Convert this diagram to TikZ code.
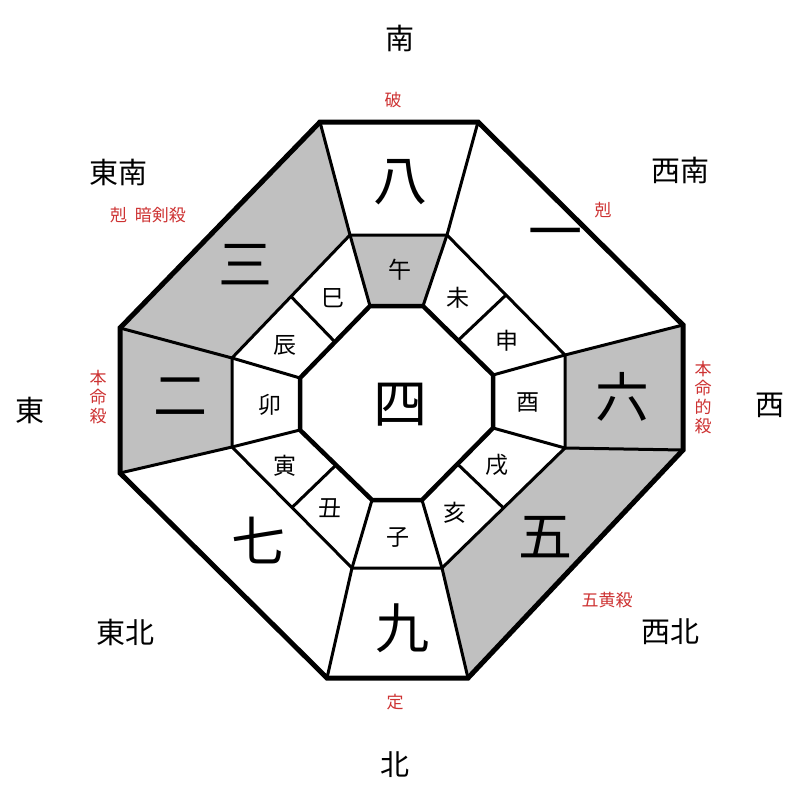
\documentclass[tikz,border=0pt]{standalone}
\usepackage{fontspec}
\setmainfont{Noto Sans CJK JP}
\usetikzlibrary{calc}
\definecolor{cellgray}{RGB}{192,192,192}
\definecolor{redtxt}{RGB}{205,50,50}
\tikzset{
  big/.style={font=\fontsize{54}{54}\selectfont},
  sign/.style={font=\fontsize{23}{23}\selectfont},
  dir/.style={font=\fontsize{29}{29}\selectfont},
  note/.style={font=\fontsize{17}{17}\selectfont,text=redtxt,inner sep=0pt},
  wall/.style={line width=3pt,line join=miter},
}
\begin{document}
\begin{tikzpicture}[x=1pt,y=-1pt]
\useasboundingbox (0,0) rectangle (800,800);
% outer ring
\coordinate (a1) at (320,122); \coordinate (a2) at (478,122);
\coordinate (a3) at (683,325); \coordinate (a4) at (683,450);
\coordinate (a5) at (468,678); \coordinate (a6) at (327,678);
\coordinate (a7) at (120,473); \coordinate (a8) at (120,328);
% middle ring
\coordinate (b1) at (350,235); \coordinate (b2) at (447,235);
\coordinate (b3) at (565,355); \coordinate (b4) at (565,448);
\coordinate (b5) at (442,568); \coordinate (b6) at (352,568);
\coordinate (b7) at (232,447); \coordinate (b8) at (232,358);
% inner ring
\coordinate (i1) at (370,306); \coordinate (i2) at (423,306);
\coordinate (i3) at (493,375); \coordinate (i4) at (493,428);
\coordinate (i5) at (422,500); \coordinate (i6) at (372,500);
\coordinate (i7) at (300,430); \coordinate (i8) at (300,378);

% shaded sectors
\fill[cellgray] (a8) -- (a1) -- (b1) -- (b8) -- cycle;
\fill[cellgray] (a7) -- (a8) -- (b8) -- (b7) -- cycle;
\fill[cellgray] (a3) -- (a4) -- (b4) -- (b3) -- cycle;
\fill[cellgray] (a4) -- (a5) -- (b5) -- (b4) -- cycle;
\fill[cellgray] (b1) -- (b2) -- (i2) -- (i1) -- cycle;

% spokes
\foreach \k in {1,...,8} {
  \draw[wall] (a\k) -- (b\k);
  \draw[wall] (b\k) -- (i\k);
}
\draw[wall] ($(i8)!0.5!(i1)$) -- ($(b8)!0.5!(b1)$);
\draw[wall] ($(i2)!0.5!(i3)$) -- ($(b2)!0.5!(b3)$);
\draw[wall] ($(i4)!0.5!(i5)$) -- ($(b4)!0.5!(b5)$);
\draw[wall] ($(i6)!0.5!(i7)$) -- ($(b6)!0.5!(b7)$);
\draw[wall] (b1) -- (b2) -- (b3) -- (b4) -- (b5) -- (b6) -- (b7) -- (b8) -- cycle;
\draw[line width=4.5pt,line join=miter] (i1) -- (i2) -- (i3) -- (i4) -- (i5) -- (i6) -- (i7) -- (i8) -- cycle;
\draw[line width=5pt,line join=miter] (a1) -- (a2) -- (a3) -- (a4) -- (a5) -- (a6) -- (a7) -- (a8) -- cycle;

% numbers
\node[big] (n8) at (400,182) {八};
\node[big] (n1) at (555,240) {一};
\node[big] (n6) at (622,397) {六};
\node[big] (n5) at (545,537) {五};
\node[big] (n9) at (402,628) {九};
\node[big] (n7) at (258,540) {七};
\node[big] (n2) at (180,397) {二};
\node[big] (n3) at (245,265) {三};
\node[big] (n4) at (400,405) {四};

% zodiac signs
\node[sign] (wu) at (400,270) {午};
\node[sign] (wei) at (458,298) {未};
\node[sign] (shen) at (507,341) {申};
\node[sign] (you) at (528,402) {酉};
\node[sign] (xu) at (497,465) {戌};
\node[sign] (hai) at (455,513) {亥};
\node[sign] (zi) at (398,538) {子};
\node[sign] (chou) at (330,508) {丑};
\node[sign] (yin) at (285,466) {寅};
\node[sign] (mao) at (270,405) {卯};
\node[sign] (chen) at (285,345) {辰};
\node[sign] (si) at (333,298) {巳};

% directions
\node[dir] (south) at (400,38) {南};
\node[dir] (sw) at (680,170) {西南};
\node[dir] (west) at (770,405) {西};
\node[dir] (nw) at (670,632) {西北};
\node[dir] (north) at (395,765) {北};
\node[dir] (ne) at (125,632) {東北};
\node[dir] (east) at (30,410) {東};
\node[dir] (se) at (118,172) {東南};

% red notes
\node[note] (po) at (393,100) {破};
\node[note] (ke1) at (603,210) {剋};
\node[note,align=center] (bmt) at (703,398) {本\\[2pt]命\\[2pt]的\\[2pt]殺};
\node[note] (wh) at (607,600) {五黄殺};
\node[note] (ding) at (395,702) {定};
\node[note] (ke2) at (148,215) {剋\hspace{8pt}暗剣殺};
\node[note,align=center] (bms) at (98,397) {本\\[2pt]命\\[2pt]殺};
\end{tikzpicture}
\end{document}
